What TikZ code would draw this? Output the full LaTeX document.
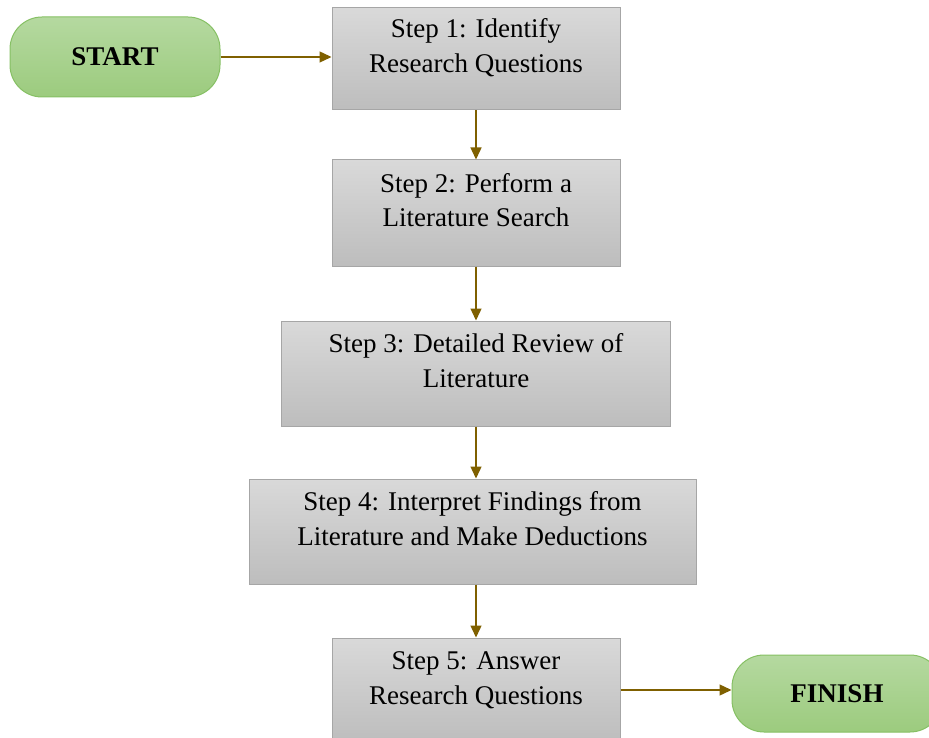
\documentclass[tikz,border=0pt]{standalone}
\usepackage{fontspec}
\setmainfont{Liberation Serif}
\usetikzlibrary{arrows.meta}
\definecolor{flowarrow}{HTML}{7F6000}
\definecolor{boxedge}{HTML}{A6A6A6}
\definecolor{boxtop}{HTML}{D9D9D9}
\definecolor{boxbottom}{HTML}{BDBDBD}
\definecolor{termedge}{HTML}{86C064}
\definecolor{termtop}{HTML}{B5D9A0}
\definecolor{termbottom}{HTML}{9CCB7E}
\begin{document}
\begin{tikzpicture}[x=1pt,y=-1pt,
    stepbox/.style={draw=boxedge, line width=1pt, top color=boxtop, bottom color=boxbottom,
      align=center, inner sep=0pt, font=\fontsize{27}{35}\selectfont,
      text height=48pt, text depth=20pt},
    termbox/.style={draw=termedge, line width=1pt, top color=termtop, bottom color=termbottom,
      rounded corners=32pt, minimum width=210pt, inner sep=0pt,
      font=\fontsize{27}{30}\selectfont\bfseries},
    flow/.style={draw=flowarrow, line width=1.4pt, -{Triangle[length=12pt,width=11pt]}}]
  \clip (0,0) rectangle (929,738);

  % Terminals
  \node[termbox, minimum height=80pt] (start) at (115,57) {START};
  \node[termbox, minimum height=77pt] (finish) at (837,693.5) {FINISH};

  % Steps
  \node[stepbox, minimum width=288pt, minimum height=102pt] (s1) at (476,59)
    {Step 1: Identify\\Research Questions};
  \node[stepbox, minimum width=288pt, minimum height=106pt] (s2) at (476,213)
    {Step 2: Perform a\\Literature Search};
  \node[stepbox, minimum width=389pt, minimum height=105pt] (s3) at (476,373.5)
    {Step 3: Detailed Review of\\Literature};
  \node[stepbox, minimum width=447pt, minimum height=105pt] (s4) at (472.5,531.5)
    {Step 4: Interpret Findings from\\Literature and Make Deductions};
  \node[stepbox, minimum width=288pt, minimum height=104pt] (s5) at (476,690)
    {Step 5: Answer\\Research Questions};

  % Connectors
  \draw[flow] (start.east) -- (start.east -| s1.west);
  \draw[flow] (s1.south) -- (s2.north);
  \draw[flow] (s2.south) -- (s3.north);
  \draw[flow] (s3.south) -- (s3.south |- s4.north);
  \draw[flow] (s3.south |- s4.south) -- (s5.north);
  \draw[flow] (s5.east) -- (s5.east -| finish.west);
\end{tikzpicture}
\end{document}
